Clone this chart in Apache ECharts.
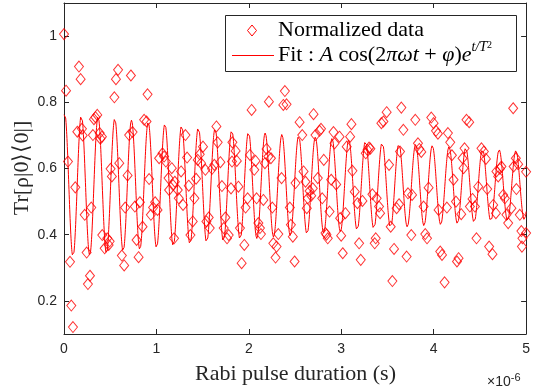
<!DOCTYPE html>
<html>
<head>
<meta charset="utf-8">
<script src="https://cdn.jsdelivr.net/npm/echarts@6/dist/echarts.min.js"></script>
<style>html,body{margin:0;padding:0;background:#fff}#c{width:533px;height:388px}</style>
</head>
<body>
<div id="c"></div>
<script>
// Rabi pulse duration in microseconds (axis shows ×10^-6 s)
const pulseTimes = [
0.000,0.022,0.043,0.065,0.079,0.097,0.122,0.144,0.162,0.180,0.194,0.202,0.224,0.245,0.259,0.281,0.295,0.313,0.324,0.340,
0.360,0.386,0.394,0.410,0.414,0.440,0.468,0.483,0.494,0.504,0.518,0.545,0.562,0.585,0.598,0.626,0.651,0.662,0.688,0.705,
0.724,0.742,0.767,0.785,0.807,0.821,0.850,0.867,0.893,0.904,0.921,0.940,0.964,0.986,1.012,1.029,1.066,1.083,1.102,1.131,
1.137,1.166,1.180,1.191,1.199,1.231,1.242,1.267,1.288,1.314,1.332,1.350,1.368,1.393,1.411,1.429,1.447,1.469,1.483,1.504,
1.530,1.541,1.566,1.577,1.602,1.627,1.649,1.663,1.692,1.709,1.728,1.746,1.764,1.782,1.807,1.818,1.822,1.857,1.870,1.887,
1.904,1.922,1.951,1.965,1.987,2.012,2.030,2.059,2.073,2.084,2.103,2.120,2.131,2.157,2.174,2.192,2.211,2.217,2.239,2.254,
2.265,2.289,2.300,2.319,2.354,2.373,2.390,2.408,2.444,2.455,2.476,2.495,2.505,2.549,2.578,2.592,2.613,2.627,2.638,2.657,
2.675,2.692,2.700,2.721,2.746,2.765,2.781,2.794,2.811,2.829,2.840,2.854,2.873,2.891,2.916,2.927,2.945,2.981,2.988,2.999,
3.016,3.045,3.059,3.096,3.110,3.121,3.146,3.175,3.193,3.211,3.229,3.265,3.283,3.301,3.315,3.337,3.362,3.373,3.383,3.409,
3.420,3.434,3.456,3.491,3.517,3.535,3.553,3.571,3.599,3.625,3.636,3.650,3.672,3.707,3.722,3.758,3.766,3.801,3.830,3.844,
3.866,3.891,3.909,3.928,3.945,3.974,3.999,4.025,4.046,4.053,4.071,4.090,4.118,4.143,4.154,4.179,4.197,4.215,4.241,4.252,
4.269,4.298,4.312,4.323,4.334,4.355,4.384,4.392,4.420,4.446,4.463,4.482,4.517,4.543,4.565,4.579,4.600,4.636,4.644,4.673,
4.679,4.698,4.716,4.733,4.752,4.770,4.787,4.806,4.841,4.860,4.865,4.889,4.895,4.914,4.932,4.949,4.960,4.955,5.000,5.000
];
const normalizedValues = [
1.006,0.835,0.621,0.318,0.186,0.121,0.543,0.711,0.908,0.870,0.720,0.700,0.460,0.346,0.251,0.276,0.482,0.701,0.749,0.755,
0.762,0.707,0.690,0.696,0.399,0.359,0.389,0.369,0.380,0.599,0.576,0.815,0.870,0.898,0.616,0.337,0.307,0.482,0.579,0.701,
0.881,0.710,0.485,0.384,0.332,0.498,0.424,0.747,0.742,0.824,0.568,0.460,0.482,0.498,0.475,0.631,0.646,0.636,0.621,0.571,
0.535,0.601,0.550,0.389,0.560,0.535,0.510,0.591,0.490,0.701,0.633,0.548,0.399,0.440,0.510,0.569,0.626,0.643,0.616,0.666,
0.596,0.440,0.452,0.420,0.599,0.611,0.727,0.679,0.619,0.547,0.420,0.452,0.389,0.399,0.540,0.621,0.679,0.653,0.623,0.545,
0.420,0.314,0.369,0.482,0.510,0.641,0.777,0.596,0.623,0.510,0.435,0.420,0.402,0.505,0.616,0.659,0.636,0.802,0.631,0.482,
0.374,0.331,0.364,0.402,0.571,0.792,0.834,0.794,0.482,0.430,0.394,0.319,0.556,0.740,0.701,0.591,0.560,0.480,0.510,0.532,
0.518,0.540,0.764,0.701,0.571,0.714,0.720,0.510,0.626,0.405,0.400,0.389,0.470,0.566,0.710,0.676,0.552,0.696,0.450,0.397,
0.344,0.465,0.666,0.696,0.734,0.593,0.530,0.495,0.374,0.324,0.502,0.646,0.656,0.663,0.660,0.522,0.374,0.389,0.510,0.485,
0.465,0.737,0.742,0.770,0.611,0.424,0.260,0.357,0.480,0.492,0.651,0.784,0.717,0.334,0.525,0.399,0.520,0.747,0.676,0.659,
0.650,0.485,0.402,0.389,0.542,0.754,0.737,0.714,0.705,0.475,0.349,0.339,0.256,0.482,0.707,0.679,0.640,0.566,0.500,0.319,
0.329,0.462,0.631,0.601,0.661,0.747,0.740,0.485,0.508,0.485,0.389,0.545,0.661,0.651,0.629,0.538,0.364,0.341,0.490,0.465,
0.591,0.576,0.599,0.606,0.520,0.510,0.460,0.435,0.480,0.782,0.606,0.631,0.538,0.613,0.460,0.411,0.389,0.364,0.590,0.405
];
// Fit parameters (t in µs, ω in MHz)
const fitA = 0.22;
const fitOmega = 5.53;
const fitPhi = -0.245;
const fitT2 = -6.6;
const fitOffset = 0.549;
const xTicks = [0, 1, 2, 3, 4, 5];
const yTicks = [0.2, 0.4, 0.6, 0.8, 1];

const scatterData = pulseTimes.map((t, i) => [t, normalizedValues[i]]);
const fitData = [];
for (let k = 0; k <= 2500; k++) {
  const t = k * 0.002;
  fitData.push([t, fitOffset + fitA * Math.cos(2 * Math.PI * fitOmega * t + fitPhi) * Math.exp(t / fitT2)]);
}

const axisColor = '#262626';
const tickFont = {color: axisColor, fontSize: 14, fontFamily: '"Liberation Sans", Arial, sans-serif'};
const serif = '"Liberation Serif", "Times New Roman", serif';

const chart = echarts.init(document.getElementById('c'), null, {renderer: 'canvas'});
chart.setOption({
  backgroundColor: '#fff',
  animation: false,
  grid: {left: 64, right: 6, top: 3, bottom: 54, containLabel: false},
  xAxis: [{
    type: 'value', min: xTicks[0], max: xTicks[xTicks.length - 1], interval: 1, position: 'bottom',
    axisLine: {show: true, onZero: false, lineStyle: {color: axisColor, width: 1}},
    axisTick: {show: true, inside: true, length: 5, lineStyle: {color: axisColor}},
    axisLabel: Object.assign({margin: 8}, tickFont),
    splitLine: {show: false}
  }, {
    type: 'value', min: 0, max: 5, interval: 1, position: 'top',
    axisLine: {show: true, onZero: false, lineStyle: {color: axisColor, width: 1}},
    axisTick: {show: true, inside: true, length: 5, lineStyle: {color: axisColor}},
    axisLabel: {show: false}, splitLine: {show: false}
  }],
  yAxis: [{
    type: 'value', min: 0.1, max: 1.1, position: 'left',
    axisLine: {show: true, onZero: false, lineStyle: {color: axisColor, width: 1}},
    axisTick: {show: true, inside: true, length: 5, customValues: yTicks, lineStyle: {color: axisColor}},
    axisLabel: Object.assign({margin: 7, customValues: yTicks}, tickFont),
    splitLine: {show: false}
  }, {
    type: 'value', min: 0.1, max: 1.1, position: 'right',
    axisLine: {show: true, onZero: false, lineStyle: {color: axisColor, width: 1}},
    axisTick: {show: true, inside: true, length: 5, customValues: yTicks, lineStyle: {color: axisColor}},
    axisLabel: {show: false}, splitLine: {show: false}
  }],
  series: [{
    name: 'Normalized data', type: 'scatter', xAxisIndex: 0, yAxisIndex: 0,
    symbol: 'diamond', symbolSize: [9, 11],
    itemStyle: {color: 'rgba(0,0,0,0)', borderColor: '#ff0000', borderWidth: 1},
    data: scatterData, clip: false, silent: true
  }, {
    name: 'Fit', type: 'line', xAxisIndex: 0, yAxisIndex: 0,
    showSymbol: false, symbol: 'none', sampling: null,
    lineStyle: {color: '#ff0000', width: 1},
    data: fitData, silent: true
  }],
  graphic: [
    {type: 'rect', z: 100, shape: {x: 225.5, y: 15.5, width: 291, height: 56},
     style: {fill: '#fff', stroke: axisColor, lineWidth: 1}},
    {type: 'polygon', z: 101, shape: {points: [[252, 25], [256.5, 30.5], [252, 36], [247.5, 30.5]]},
     style: {fill: 'none', stroke: '#ff0000', lineWidth: 1}},
    {type: 'rect', z: 101, shape: {x: 232, y: 55, width: 42, height: 1},
     style: {fill: '#ff0000', stroke: null}},
    {type: 'text', z: 101, x: 278, y: 30,
     style: {text: 'Normalized data', font: '22px ' + serif, fill: '#000', verticalAlign: 'middle'}},
    {type: 'text', z: 101, x: 278, y: 55,
     style: {
       text: '{r|Fit : }{i|A}{r| cos(2}{i|πωt}{r| + }{i|φ}{r|)}{i|e}{sup|t/T}{sub|2}',
       fill: '#000', verticalAlign: 'middle',
       rich: {
         r: {fontFamily: serif, fontSize: 22, lineHeight: 30, fill: '#000'},
         i: {fontFamily: serif, fontSize: 22, fontStyle: 'italic', lineHeight: 30, fill: '#000'},
         sup: {fontFamily: serif, fontSize: 14, fontStyle: 'italic', lineHeight: 14, verticalAlign: 'top', fill: '#000'},
         sub: {fontFamily: serif, fontSize: 10, lineHeight: 22, verticalAlign: 'top', fill: '#000'}
       }
     }},
    {type: 'text', x: 295.5, y: 374,
     style: {text: 'Rabi pulse duration (s)', font: '22px ' + serif, fill: axisColor, align: 'center', verticalAlign: 'middle'}},
    {type: 'text', x: 22, y: 168, rotation: Math.PI / 2,
     style: {text: 'Tr[ρ|0⟩⟨0|]', font: '22px ' + serif, fill: axisColor, align: 'center', verticalAlign: 'middle'}},
    {type: 'text', x: 487, y: 382,
     style: {
       text: '{a|×10}{b|-6}', verticalAlign: 'middle',
       rich: {
         a: {fontFamily: '"Liberation Sans", Arial, sans-serif', fontSize: 14, lineHeight: 20, fill: axisColor},
         b: {fontFamily: '"Liberation Sans", Arial, sans-serif', fontSize: 11, lineHeight: 11, verticalAlign: 'top', fill: axisColor}
       }
     }}
  ]
});
</script>
</body>
</html>
